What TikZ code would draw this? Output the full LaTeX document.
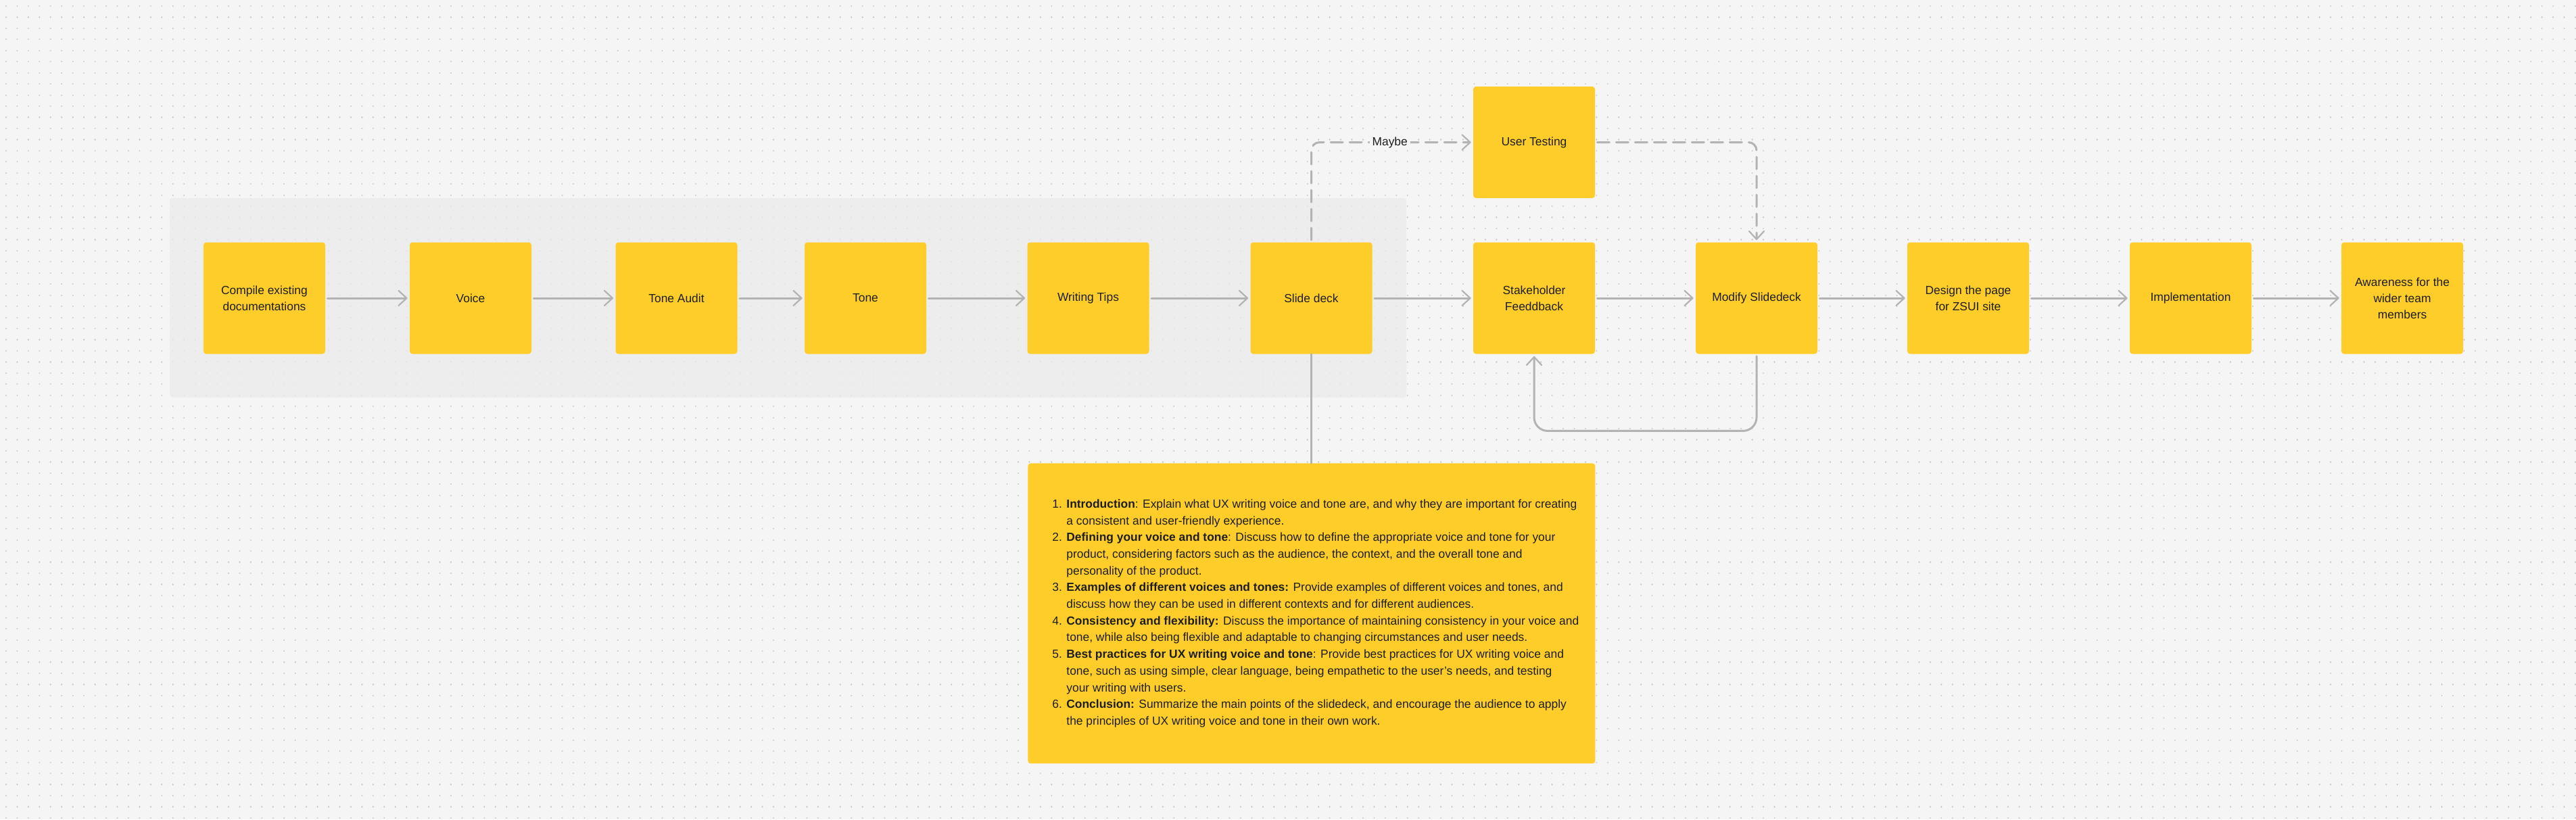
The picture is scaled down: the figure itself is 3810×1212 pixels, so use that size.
\documentclass[tikz,border=0pt]{standalone}
\usepackage{fontspec}
\setmainfont{Liberation Sans}
\usetikzlibrary{arrows.meta}
\definecolor{bgc}{HTML}{F5F5F5}
\definecolor{areac}{HTML}{EBEBEB}
\definecolor{dotc}{HTML}{C6C6C6}
\definecolor{yellowc}{HTML}{FFCD29}
\definecolor{linec}{HTML}{B3B3B3}
\definecolor{textc}{HTML}{1E1E1E}
\begin{document}
\begin{tikzpicture}[x=0.5pt,y=-0.5pt,
  card/.style={rectangle, rounded corners=2pt, fill=yellowc, minimum width=90pt, minimum height=82.5pt,
    align=center, inner sep=0pt, text=textc, font=\fontsize{8.7}{12}\selectfont},
  conn/.style={draw=linec, line width=1.5pt, line cap=round, shorten <=1.5pt, shorten >=1.5pt},
  flow/.style={conn, -{Straight Barb[length=6pt,width=11pt,line width=1.1pt,round]}},
  dconn/.style={flow, dash pattern=on 9pt off 5pt, rounded corners=6pt},
  lbl/.style={fill=bgc, inner sep=2pt, text=textc, font=\fontsize{8.7}{12}\selectfont},
  dotrow/.style={draw=dotc, line width=1.1pt, line cap=round, dash pattern=on 0.01pt off 8.215pt},
]
% background
\fill[bgc] (0,0) rectangle (3810,1212);
\useasboundingbox (0,0) rectangle (3810,1212);
% dot grid
\foreach \j in {0,...,73}{
  \draw[dotrow] (9,{9+16.45*\j}) -- (3812,{9+16.45*\j});
}
% grey section
\fill[areac, fill opacity=0.75, rounded corners=2pt] (251,293) rectangle (2080,588);

% cards
\node[card] (ce) at (391,441) {Compile existing\\documentations};
\node[card] (vo) at (696,441) {Voice};
\node[card] (ta) at (1000.5,441) {Tone Audit};
\node[card] (to) at (1280,441) {Tone};
\node[card] (wt) at (1609.5,441) {Writing Tips};
\node[card] (sd) at (1939.5,441) {Slide deck};
\node[card] (sh) at (2269,441) {Stakeholder\\Feeddback};
\node[card] (ut) at (2269,210.5) {User Testing};
\node[card] (md) at (2598,441) {Modify Slidedeck};
\node[card] (dp) at (2911,441) {Design the page\\for ZSUI site};
\node[card] (im) at (3240,441) {Implementation};
\node[card] (aw) at (3553,441) {Awareness for the\\wider team\\members};

% notes panel
\node[rectangle, rounded corners=2pt, fill=yellowc, minimum width=419.5pt, minimum height=222pt,
  inner sep=0pt, anchor=north west] (notes) at (1520,685) {};
\node[anchor=west, align=left, inner sep=0pt, text=textc, font=\fontsize{8.7}{12.35}\selectfont] (notestext)
  at ([xshift=18pt]notes.west) {%
\makebox[10.5pt][l]{1.}\textbf{Introduction}: Explain what UX writing voice and tone are, and why they are important for creating\\
\hspace*{10.5pt}a consistent and user-friendly experience.\\
\makebox[10.5pt][l]{2.}\textbf{Defining your voice and tone}: Discuss how to define the appropriate voice and tone for your\\
\hspace*{10.5pt}product, considering factors such as the audience, the context, and the overall tone and\\
\hspace*{10.5pt}personality of the product.\\
\makebox[10.5pt][l]{3.}\textbf{Examples of different voices and tones:} Provide examples of different voices and tones, and\\
\hspace*{10.5pt}discuss how they can be used in different contexts and for different audiences.\\
\makebox[10.5pt][l]{4.}\textbf{Consistency and flexibility:} Discuss the importance of maintaining consistency in your voice and\\
\hspace*{10.5pt}tone, while also being flexible and adaptable to changing circumstances and user needs.\\
\makebox[10.5pt][l]{5.}\textbf{Best practices for UX writing voice and tone}: Provide best practices for UX writing voice and\\
\hspace*{10.5pt}tone, such as using simple, clear language, being empathetic to the user's needs, and testing\\
\hspace*{10.5pt}your writing with users.\\
\makebox[10.5pt][l]{6.}\textbf{Conclusion:} Summarize the main points of the slidedeck, and encourage the audience to apply\\
\hspace*{10.5pt}the principles of UX writing voice and tone in their own work.};

% main flow
\draw[flow] (ce) -- (vo);
\draw[flow] (vo) -- (ta);
\draw[flow] (ta) -- (to);
\draw[flow] (to) -- (wt);
\draw[flow] (wt) -- (sd);
\draw[flow] (sd) -- (sh);
\draw[flow] (sh) -- (md);
\draw[flow] (md) -- (dp);
\draw[flow] (dp) -- (im);
\draw[flow] (im) -- (aw);

% slide deck to notes
\draw[conn, shorten >=0pt, shorten <=0pt] (sd.south) -- (notes.north -| sd.south);

% dashed user testing loop
\draw[dconn] (sd.north) |- node[lbl, pos=0.743] (maybe) {Maybe} (ut.west);
\draw[dconn] (ut.east) -| (md.north);

% feedback loop
\draw[flow, rounded corners=10pt] (md.south) -- ++(0,113.5) -| (sh.south);
\end{tikzpicture}
\end{document}
